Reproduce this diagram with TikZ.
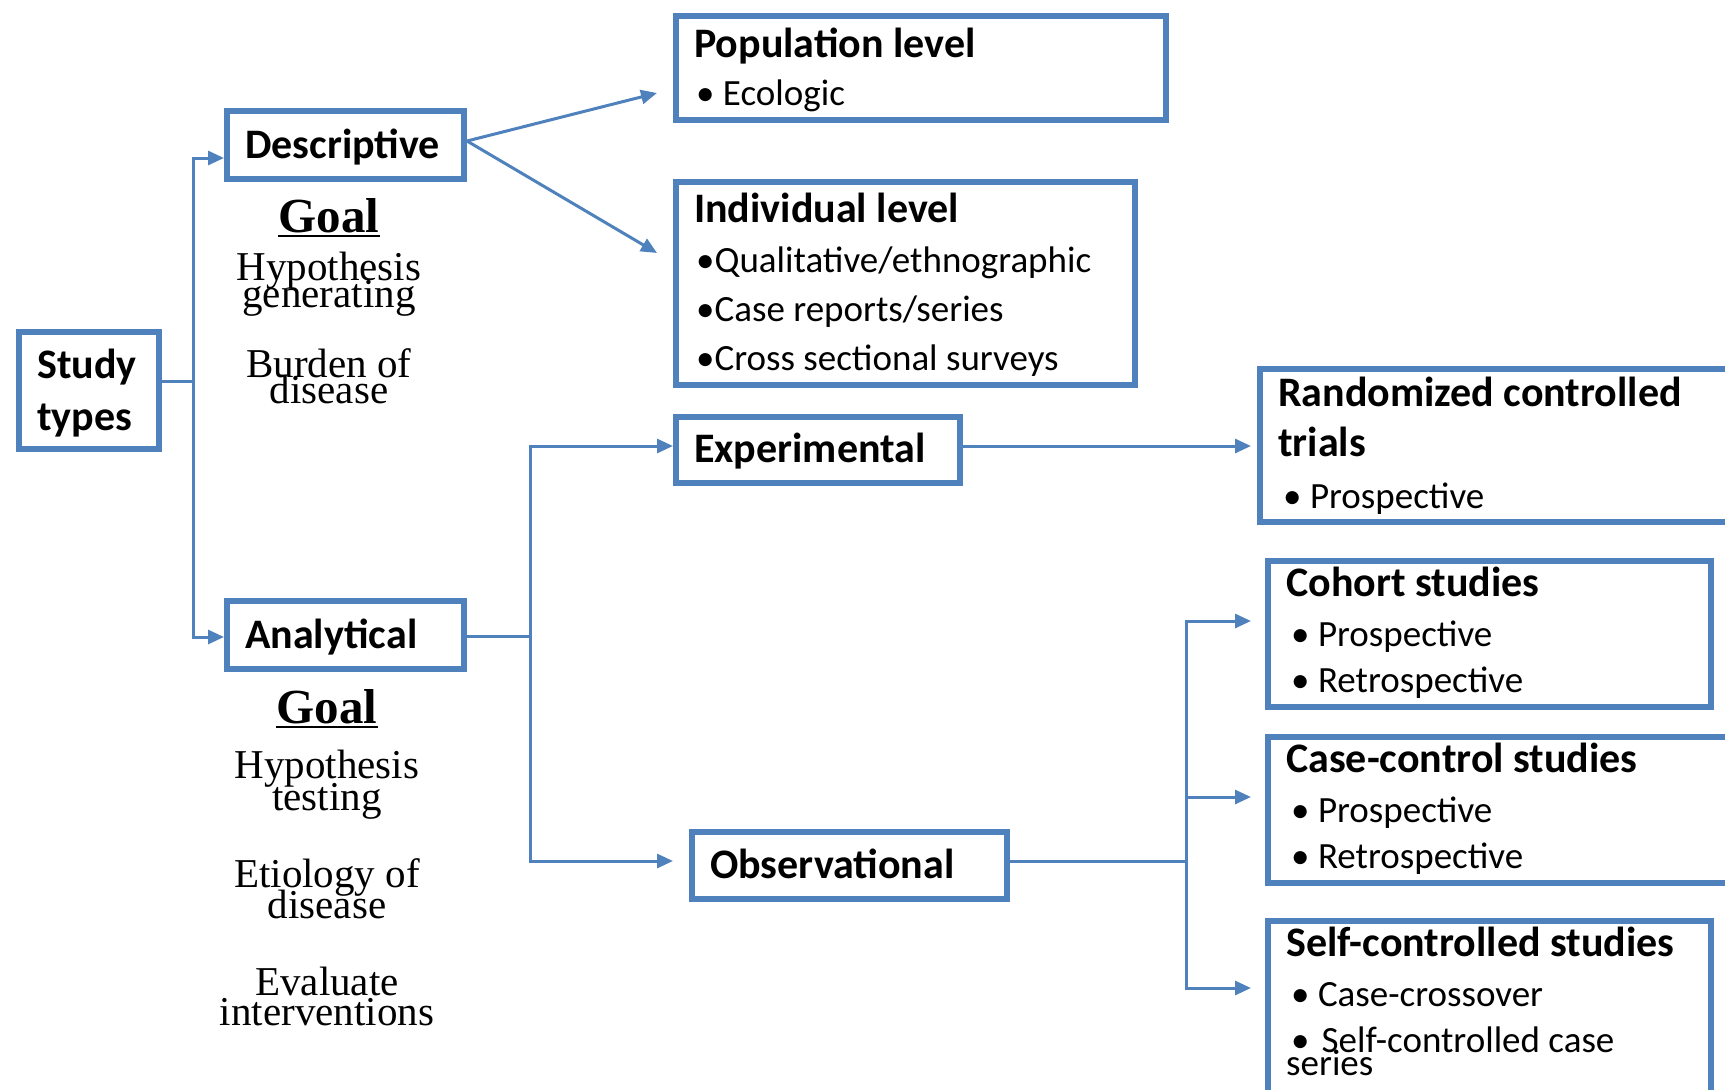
\documentclass[tikz,border=0pt]{standalone}
\usepackage{fontspec}
\setmainfont{Carlito}
\newfontfamily\goalfont{Liberation Serif}
\usetikzlibrary{arrows.meta}
\definecolor{boxblue}{RGB}{79,129,189}

\begin{document}
\begin{tikzpicture}[x=1pt,y=-1pt,
        box/.style = {draw=boxblue,line width=6pt,anchor=north west,inner sep=0pt},
        link/.style = {draw=boxblue,line width=3pt},
        arrow/.style = {link,-{Triangle[length=16pt,width=14pt]}},
        title/.style = {anchor=base west,inner sep=0pt,font=\fontsize{42}{50}\selectfont\bfseries},
        item/.style = {anchor=base west,inner sep=0pt,font=\fontsize{37}{44}\selectfont},
        goal/.style = {anchor=base,inner sep=0pt,font=\goalfont\fontsize{41}{41}\selectfont},
        goalhead/.style = {goal,font=\goalfont\fontsize{49}{49}\selectfont\bfseries}]
    \useasboundingbox (0,0) rectangle (1725,1090);

    % boxes
    \node[box,minimum width=140pt,minimum height=117pt] (study) at (16,329) {};
    \node[box,minimum width=237pt,minimum height=68pt] (desc) at (224,108) {};
    \node[box,minimum width=237pt,minimum height=68pt] (anal) at (224,598) {};
    \node[box,minimum width=490pt,minimum height=104pt] (pop) at (673,13) {};
    \node[box,minimum width=459pt,minimum height=203pt] (indiv) at (673,179) {};
    \node[box,minimum width=284pt,minimum height=66pt] (expe) at (673,414) {};
    \node[box,minimum width=315pt,minimum height=67pt] (obs) at (689,829) {};
    \node[box,minimum width=497pt,minimum height=153pt] (rct) at (1257,366) {};
    \node[box,minimum width=443pt,minimum height=146pt] (cohort) at (1265,558) {};
    \node[box,minimum width=489pt,minimum height=146pt] (cc) at (1265,734) {};
    \node[box,minimum width=443pt,minimum height=186pt] (self) at (1265,918) {};

    % texts in boxes
    \node[title] (studya) at (37,378) {Study};
    \node[title] (studyb) at (37,430) {types};
    \node[title] (desct) at (245,158) {Descriptive};
    \node[title] (analt) at (245,648) {Analytical};
    \node[title] (popt) at (694,57) {Population level};
    \node[item] (popa) at (696,105) {• Ecologic};
    \node[title] (indivt) at (694,222) {Individual level};
    \node[item] (indiva) at (696,272) {•Qualitative/ethnographic};
    \node[item] (indivb) at (696,321) {•Case reports/series};
    \node[item] (indivc) at (696,370) {•Cross sectional surveys};
    \node[title] (expet) at (694,462) {Experimental};
    \node[title] (obst) at (710,878) {Observational};
    \node[title] (rcta) at (1278,406) {Randomized controlled};
    \node[title] (rctb) at (1278,456) {trials};
    \node[item] (rctc) at (1283,508) {• Prospective};
    \node[title] (cohortt) at (1286,596) {Cohort studies};
    \node[item] (cohorta) at (1291,646) {• Prospective};
    \node[item] (cohortb) at (1291,692) {• Retrospective};
    \node[title] (cct) at (1286,772) {Case-control studies};
    \node[item] (cca) at (1291,822) {• Prospective};
    \node[item] (ccb) at (1291,868) {• Retrospective};
    \node[title] (selft) at (1286,956) {Self-controlled studies};
    \node[item] (selfa) at (1291,1006) {• Case-crossover};
    \node[item] (selfb) at (1291,1052) {•\hspace{12pt}Self-controlled case};
    \node[item] (selfc) at (1286,1075) {series};

    % goals
    \node[goalhead] (dgoal) at (329,232) {Goal};
    \draw[line width=2.5pt] ([yshift=-4pt]dgoal.base west) -- ([yshift=-4pt]dgoal.base east);
    \node[goal] (dga) at (329,280) {Hypothesis};
    \node[goal] (dgb) at (329,307) {generating};
    \node[goal] (dgc) at (329,377) {Burden of};
    \node[goal] (dgd) at (329,403) {disease};
    \node[goalhead] (agoal) at (327,723) {Goal};
    \draw[line width=2.5pt] ([yshift=-4pt]agoal.base west) -- ([yshift=-4pt]agoal.base east);
    \node[goal] (aga) at (327,778) {Hypothesis};
    \node[goal] (agb) at (327,810) {testing};
    \node[goal] (agc) at (327,887) {Etiology of};
    \node[goal] (agd) at (327,918) {disease};
    \node[goal] (age) at (327,995) {Evaluate};
    \node[goal] (agf) at (327,1025) {interventions};

    % connectors
    \coordinate (j1) at (193,381);
    \coordinate (j2) at (530,636);
    \coordinate (j3) at (1186,861);
    \coordinate (popin) at (657,93);
    \coordinate (indivin) at (657,253);
    \draw[link] (study.east |- j1) -- (j1);
    \draw[arrow] (j1) |- (desc.west |- 0,158);
    \draw[arrow] (j1) |- (anal.west |- 0,637);
    \draw[arrow] (desc.east |- 0,141) -- (popin);
    \draw[arrow] (desc.east |- 0,141) -- (indivin);
    \draw[link] (anal.east |- j2) -- (j2);
    \draw[arrow] (j2) |- (expe.west |- 0,446);
    \draw[arrow] (j2) |- ([xshift=-16pt]obs.west |- j3);
    \draw[arrow] (expe.east |- 0,446) -- ([xshift=-6pt]rct.west |- 0,446);
    \draw[link] (obs.east |- j3) -- (j3);
    \draw[arrow] (j3) |- ([xshift=-14pt]cohort.west |- 0,621);
    \draw[arrow] (j3) |- ([xshift=-14pt]cc.west |- 0,797);
    \draw[arrow] (j3) |- ([xshift=-14pt]self.west |- 0,988);
\end{tikzpicture}
\end{document}
